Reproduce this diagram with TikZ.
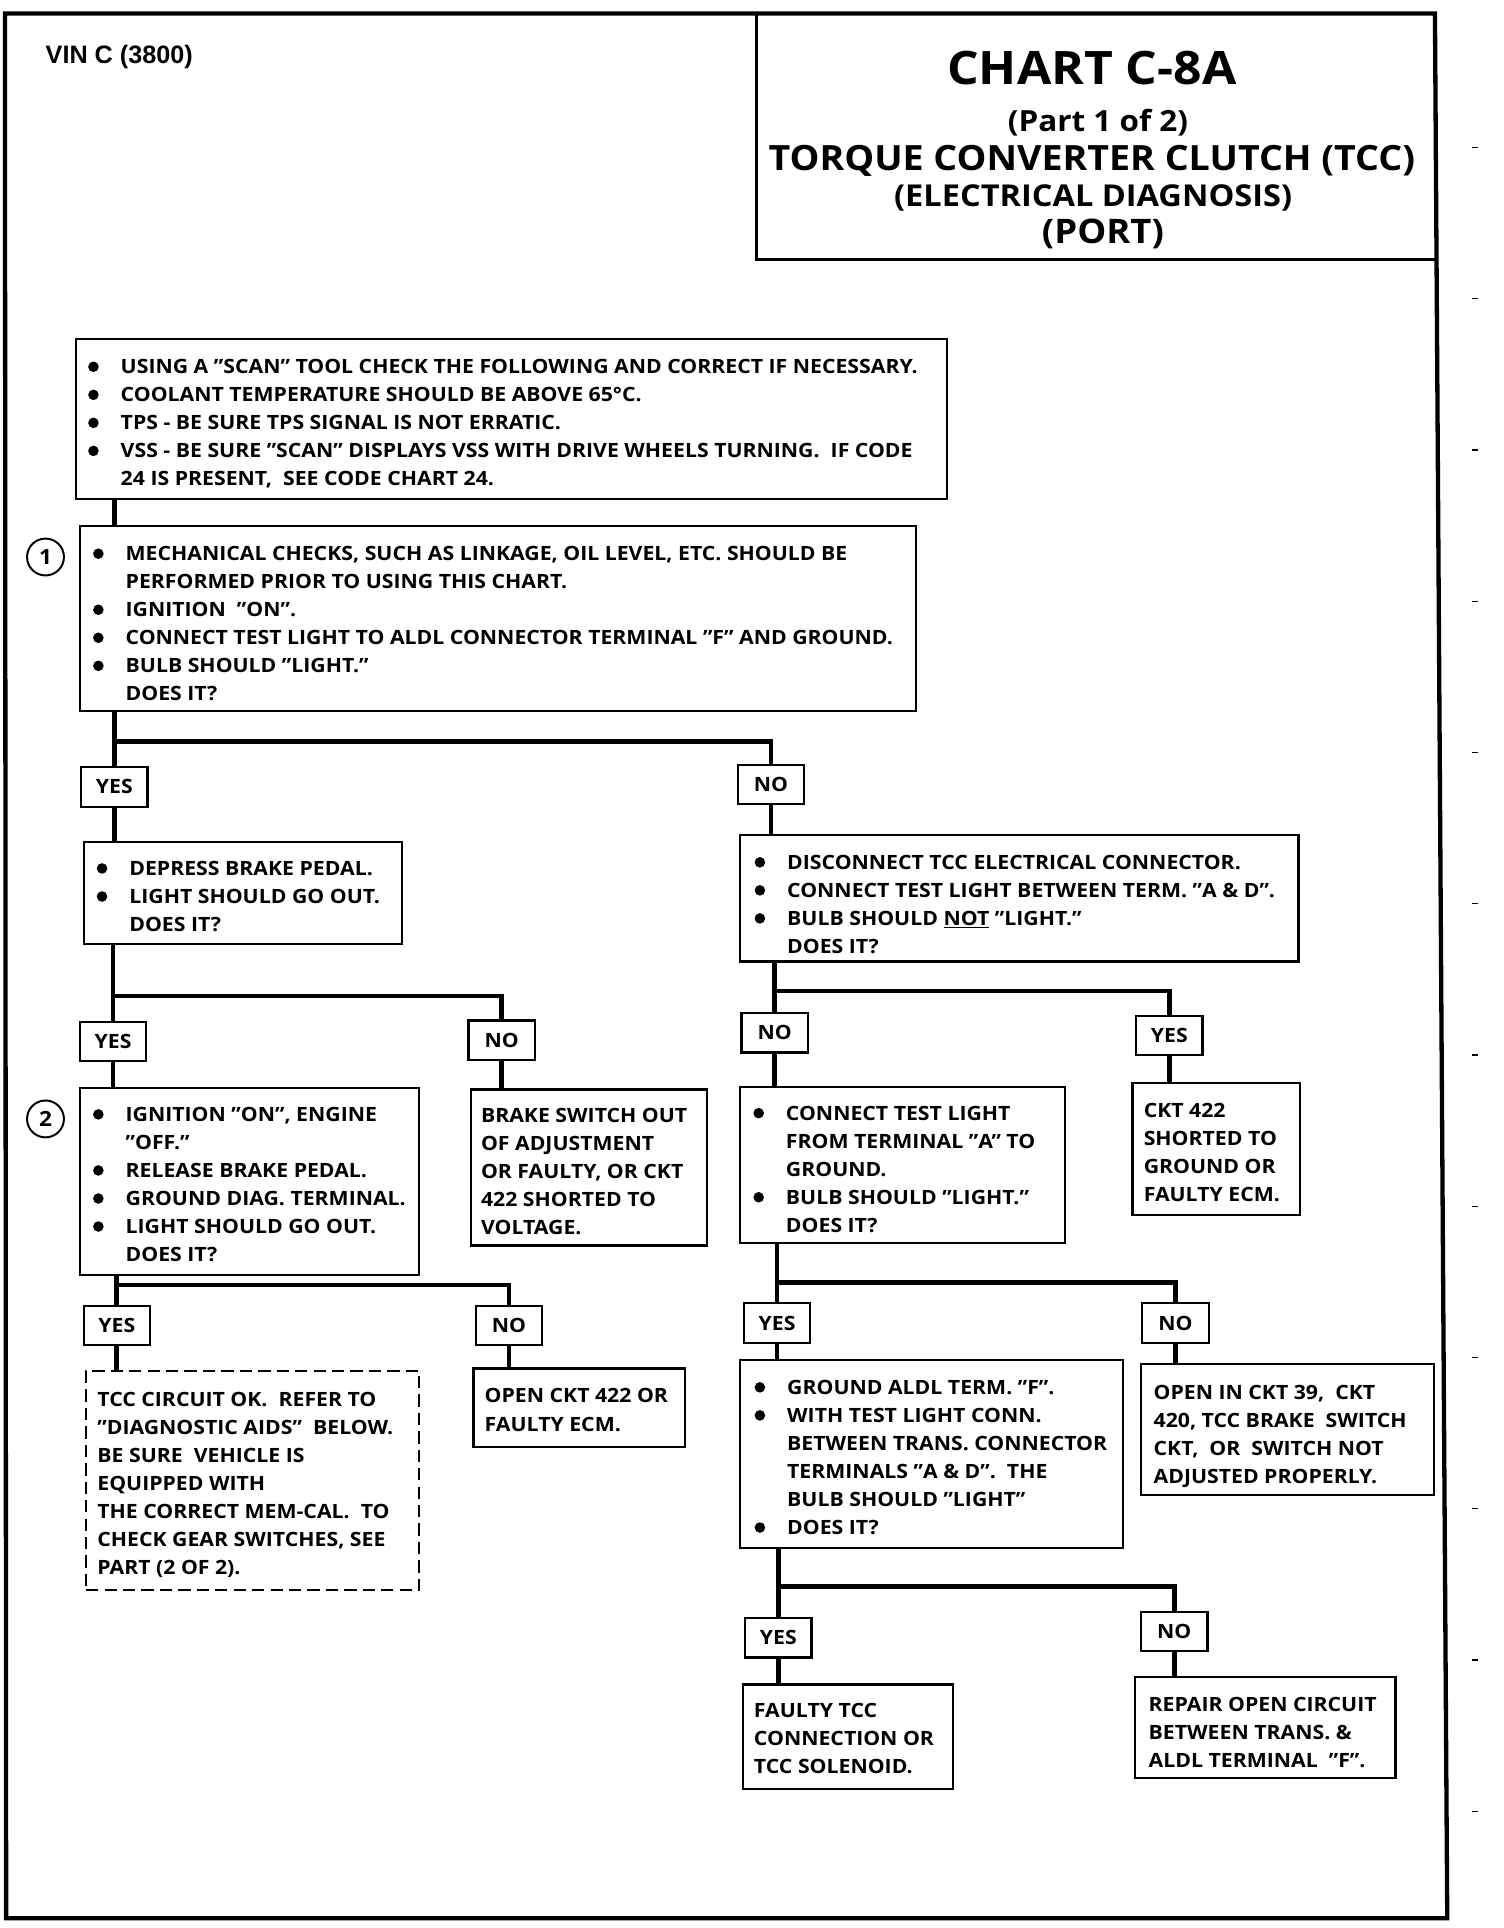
\documentclass[tikz,border=0pt]{standalone}
\usepackage{fontspec}
\setmainfont{Open Sans}[FakeStretch=1.08]
\newfontfamily\vinfont{Liberation Sans}
\usetikzlibrary{fit}
\newcommand\bodyfnt{\bfseries\fontsize{16}{22.8}\selectfont}
\newcommand\tx[4]{\node[txt] (#1) at (#2,#3) {\bodyfnt\vtop{\let\\\cr\halign{##\hfil\cr #4\crcr}}};}
% bullets: x of text, first baseline, list of line indices
\newcommand\bullets[3]{\foreach \k in {#3} \fill ({#1-22},{#2-5.7+22.8*\k}) circle (4.3pt);}
\tikzset{
  box/.style={draw, line width=1.8pt, inner sep=0pt},
  dbox/.style={box, dash pattern=on 10pt off 5pt},
  lbl/.style={draw, line width=1.8pt, minimum width=54pt, minimum height=32pt, inner sep=0pt, font=\bodyfnt},
  conn/.style={line width=3.8pt, line join=miter},
  txt/.style={anchor=base west, inner sep=0pt},
  num/.style={circle, draw, line width=1.6pt, minimum size=30pt, inner sep=0pt, font=\bfseries\fontsize{17}{17}\selectfont},
  ttl/.style={inner sep=0pt, font=\bfseries},
}
\begin{document}
\begin{tikzpicture}[x=1pt,y=-1pt]
\useasboundingbox (0,0) rectangle (1223,1568);
% page frame and title box
\draw[line width=3.5pt] (4,11) -- (1167,11) -- (1177,1560) -- (5,1560) -- cycle;
\draw[line width=2.6pt] (615,11) -- (615,211) -- (1168,211);
\foreach \yy in {120,243,366,489,612,735,858,981,1104,1227,1350,1473}
  \draw[line width=0.9pt] (1197,\yy) -- (1202,\yy);

\node[inner sep=0pt, font=\vinfont\bfseries\fontsize{20.5}{20.5}\selectfont] (vin) at (97,46) {VIN C (3800)};
\node[ttl, font=\bfseries\fontsize{37.5}{37.5}\selectfont] (t1) at (888,55) {CHART C-8A};
\node[ttl, font=\bfseries\fontsize{23.7}{23.7}\selectfont] (t2) at (893,100) {(Part 1 of 2)};
\node[ttl, font=\bfseries\fontsize{28.3}{28.3}\selectfont] (t3) at (888,131) {TORQUE CONVERTER CLUTCH (TCC)};
\node[ttl, font=\bfseries\fontsize{24.5}{24.5}\selectfont] (t4) at (889,161) {(ELECTRICAL DIAGNOSIS)};
\node[ttl, font=\bfseries\fontsize{27.5}{27.5}\selectfont] (t5) at (897,190) {(PORT)};

% boxes
\node[box, fit={(62,276) (770,406)}] (bA) {};
\node[box, fit={(65,428) (745,578)}] (bB) {};
\node[box, fit={(68,685) (327,768)}] (bC) {};
\node[box, fit={(602,679) (1056,782)}] (bD) {};
\node[box, fit={(65,885) (341,1037)}] (bE) {};
\node[box, fit={(383,886) (575,1013)}] (bF) {};
\node[box, fit={(602,884) (866,1011)}] (bG) {};
\node[box, fit={(921,881) (1057,988)}] (bH) {};
\node[dbox, fit={(70,1115) (341,1293)}] (bI) {};
\node[box, fit={(385,1113) (557,1177)}] (bJ) {};
\node[box, fit={(602,1106) (913,1259)}] (bK) {};
\node[box, fit={(928,1109) (1166,1216)}] (bL) {};
\node[box, fit={(604,1370) (775,1455)}] (bM) {};
\node[box, fit={(923,1364) (1135,1446)}] (bN) {};

\node[num] (c1) at (37,453) {1};
\node[num] (c2) at (37,910) {2};

% labels
\node[lbl] (y1) at (93,640) {YES};
\node[lbl] (n1) at (627,638) {NO};
\node[lbl] (y2) at (92,847) {YES};
\node[lbl] (n2) at (408,846) {NO};
\node[lbl] (n3) at (630,840) {NO};
\node[lbl] (y3) at (951,842) {YES};
\node[lbl] (y4) at (95,1078) {YES};
\node[lbl] (n4) at (414,1078) {NO};
\node[lbl] (y5) at (632,1076) {YES};
\node[lbl] (n5) at (956,1076) {NO};
\node[lbl] (y6) at (633,1332) {YES};
\node[lbl] (n6) at (955,1327) {NO};

% junctions
\coordinate (j1) at (93,603);
\coordinate (j2) at (92,810);
\coordinate (j3) at (630,806);
\coordinate (j4) at (95,1045);
\coordinate (j5) at (632,1043);
\coordinate (j6) at (633,1290);

% connectors
\draw[conn] (bA.south -| y1) -- (bB.north -| y1);
\draw[conn] (bB.south -| y1) -- (y1.north);
\draw[conn] (j1) -| (n1.north);
\draw[conn] (y1.south) -- (bC.north -| y1);
\draw[conn] (n1.south) -- (bD.north -| n1);
\draw[conn] (bC.south -| y2) -- (y2.north);
\draw[conn] (j2) -| (n2.north);
\draw[conn] (bD.south -| n3) -- (n3.north);
\draw[conn] (j3) -| (y3.north);
\draw[conn] (y2.south) -- (bE.north -| y2);
\draw[conn] (n2.south) -- (bF.north -| n2);
\draw[conn] (n3.south) -- (bG.north -| n3);
\draw[conn] (y3.south) -- (bH.north -| y3);
\draw[conn] (bE.south -| y4) -- (y4.north);
\draw[conn] (j4) -| (n4.north);
\draw[conn] (bG.south -| y5) -- (y5.north);
\draw[conn] (j5) -| (n5.north);
\draw[conn] (y4.south) -- (bI.north -| y4);
\draw[conn] (n4.south) -- (bJ.north -| n4);
\draw[conn] (y5.south) -- (bK.north -| y5);
\draw[conn] (n5.south) -- (bL.north -| n5);
\draw[conn] (bK.south -| y6) -- (y6.north);
\draw[conn] (j6) -| (n6.north);
\draw[conn] (y6.south) -- (bM.north -| y6);
\draw[conn] (n6.south) -- (bN.north -| n6);

% bullets
\bullets{98}{304}{0,1,2,3}
\bullets{102}{456}{0,2,3,4}
\bullets{105}{712}{0,1}
\bullets{640}{707}{0,1,2}
\bullets{102}{912}{0,2,3,4}
\bullets{639}{911}{0,3}
\bullets{640}{1134}{0,1,5}

% texts
\tx{tA}{98}{304}{USING A "SCAN" TOOL CHECK THE FOLLOWING AND CORRECT IF NECESSARY.\\
COOLANT TEMPERATURE SHOULD BE ABOVE 65°C.\\
TPS - BE SURE TPS SIGNAL IS NOT ERRATIC.\\
VSS - BE SURE "SCAN" DISPLAYS VSS WITH DRIVE WHEELS TURNING.\ \ IF CODE\\
24 IS PRESENT,\ \ SEE CODE CHART 24.}
\tx{tB}{102}{456}{MECHANICAL CHECKS, SUCH AS LINKAGE, OIL LEVEL, ETC. SHOULD BE\\
PERFORMED PRIOR TO USING THIS CHART.\\
IGNITION\ \ "ON".\\
CONNECT TEST LIGHT TO ALDL CONNECTOR TERMINAL "F" AND GROUND.\\
BULB SHOULD "LIGHT."\\
DOES IT?}
\tx{tC}{105}{712}{DEPRESS BRAKE PEDAL.\\
LIGHT SHOULD GO OUT.\\
DOES IT?}
\tx{tD}{640}{707}{DISCONNECT TCC ELECTRICAL CONNECTOR.\\
CONNECT TEST LIGHT BETWEEN TERM. "A \& D".\\
BULB SHOULD \underline{NOT} "LIGHT."\\
DOES IT?}
\tx{tE}{102}{912}{IGNITION "ON", ENGINE\\
"OFF."\\
RELEASE BRAKE PEDAL.\\
GROUND DIAG. TERMINAL.\\
LIGHT SHOULD GO OUT.\\
DOES IT?}
\tx{tF}{391}{913}{BRAKE SWITCH OUT\\
OF ADJUSTMENT\\
OR FAULTY, OR CKT\\
422 SHORTED TO\\
VOLTAGE.}
\tx{tG}{639}{911}{CONNECT TEST LIGHT\\
FROM TERMINAL "A" TO\\
GROUND.\\
BULB SHOULD "LIGHT."\\
DOES IT?}
\tx{tH}{930}{909}{CKT 422\\
SHORTED TO\\
GROUND OR\\
FAULTY ECM.}
\tx{tI}{79}{1144}{TCC CIRCUIT OK.\ \ REFER TO\\
"DIAGNOSTIC AIDS"\ \ BELOW.\\
BE SURE\ \ VEHICLE IS\\
EQUIPPED WITH\\
THE CORRECT MEM-CAL.\ \ TO\\
CHECK GEAR SWITCHES, SEE\\
PART (2 OF 2).}
\tx{tJ}{394}{1141}{OPEN CKT 422 OR\\
FAULTY ECM.}
\tx{tK}{640}{1134}{GROUND ALDL TERM. "F".\\
WITH TEST LIGHT CONN.\\
BETWEEN TRANS. CONNECTOR\\
TERMINALS "A \& D".\ \ THE\\
BULB SHOULD "LIGHT"\\
DOES IT?}
\tx{tL}{938}{1138}{OPEN IN CKT 39,\ \ CKT\\
420, TCC BRAKE\ \ SWITCH\\
CKT,\ \ OR\ \ SWITCH NOT\\
ADJUSTED PROPERLY.}
\tx{tM}{613}{1397}{FAULTY TCC\\
CONNECTION OR\\
TCC SOLENOID.}
\tx{tN}{934}{1392}{REPAIR OPEN CIRCUIT\\
BETWEEN TRANS. \&\\
ALDL TERMINAL\ \ "F".}
\end{tikzpicture}
\end{document}
